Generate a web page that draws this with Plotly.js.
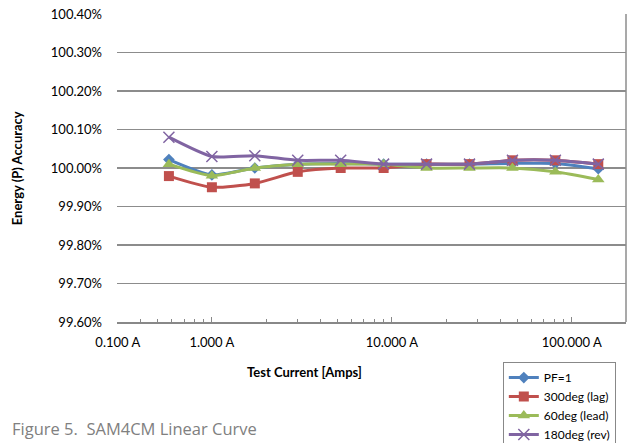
<!DOCTYPE html>
<html>
<head>
<meta charset="utf-8">
<script src="https://cdn.plot.ly/plotly-3.0.1.min.js"></script>
<style>html,body{margin:0;padding:0;background:#fff;}#chart{width:630px;height:443px;}</style>
</head>
<body>
<div id="chart"></div>
<script>
// Test current (A) for each measurement point
const currents = [0.577, 1.0, 1.732, 3.0, 5.196, 9.0, 15.59, 27.0, 46.77, 81.0, 140.3];
// Energy (P) accuracy, in percent
const pf1     = [100.022, 99.982, 100.000, 100.010, 100.012, 100.010, 100.010, 100.010, 100.012, 100.012, 99.998];
const lag300  = [99.979, 99.950, 99.960, 99.990, 100.000, 100.000, 100.010, 100.010, 100.020, 100.020, 100.010];
const lead60  = [100.010, 99.980, 100.000, 100.010, 100.010, 100.010, 100.000, 100.000, 100.000, 99.990, 99.970];
const rev180  = [100.080, 100.030, 100.032, 100.020, 100.020, 100.010, 100.010, 100.010, 100.020, 100.020, 100.010];
const seriesNames = ["PF=1", "300deg (lag)", "60deg (lead)", "180deg (rev)"];
const xTickVals = [0.3, 1, 10, 100];
const xTickText = ["0.100 A", "1.000 A", "10.000 A", "100.000 A"];
const yTickVals = [99.6, 99.7, 99.8, 99.9, 100.0, 100.1, 100.2, 100.3, 100.4];
const yTickText = ["99.60%", "99.70%", "99.80%", "99.90%", "100.00%", "100.10%", "100.20%", "100.30%", "100.40%"];

const font = "Lato, 'Liberation Sans', sans-serif";
const colors = ["#4F81BD", "#C0504D", "#9BBB59", "#8064A2"];
const symbols = ["diamond", "square", "triangle-up", "x-thin-open"];
const sizes = [9, 10, 11, 11];
const data = [pf1, lag300, lead60, rev180].map((ys, i) => ({
  type: "scatter", mode: "lines+markers",
  x: currents, y: ys, name: seriesNames[i],
  line: {color: colors[i], width: 3, shape: "spline", smoothing: 0.6},
  marker: {symbol: symbols[i], size: sizes[i], color: colors[i],
           line: {color: colors[i], width: i === 3 ? 1.5 : 0}}
}));

const layout = {
  width: 630, height: 443,
  margin: {l: 117, r: 4, t: 14, b: 121, autoexpand: false},
  paper_bgcolor: "#fff", plot_bgcolor: "#fff",
  font: {family: font, size: 13, color: "#000"},
  showlegend: true,
  legend: {x: 0.758, y: -0.13, xanchor: "left", yanchor: "top",
           bordercolor: "#888", borderwidth: 1, font: {size: 12, family: font},
           tracegroupgap: 0, itemwidth: 30},
  xaxis: {type: "log", range: [Math.log10(0.297), Math.log10(200)],
          tickmode: "array", tickvals: xTickVals, ticktext: xTickText,
          ticks: "inside", ticklen: 5, tickcolor: "#888", tickwidth: 1, ticklabelstandoff: 8,
          minor: {dtick: "D1", ticks: "inside", ticklen: 3, tickcolor: "#888", showgrid: false},
          showgrid: false, showline: true, linecolor: "#888", linewidth: 1.5,
          zeroline: false, tickfont: {size: 13, family: font}},
  yaxis: {range: [99.6, 100.4], tickmode: "array", tickvals: yTickVals, ticktext: yTickText,
          ticks: "", ticklabelstandoff: 14,
          showgrid: true, gridcolor: "#8c8c8c", gridwidth: 1.2,
          showline: false, zeroline: false, tickfont: {size: 13, family: font}},
  shapes: [{type: "line", xref: "paper", yref: "paper", x0: 1, x1: 1, y0: 0, y1: 1,
            line: {color: "#8c8c8c", width: 1.5}}],
  annotations: [
    {text: "<b>Test Current [Amps]</b>", xref: "paper", yref: "paper", x: 0.369, y: -0.163,
     xanchor: "center", yanchor: "middle", showarrow: false, font: {size: 13, family: font}},
    {text: "<b>Energy (P) Accuracy</b>", xref: "paper", yref: "paper", x: -0.196, y: 0.5,
     xanchor: "center", yanchor: "middle", textangle: -90, showarrow: false, font: {size: 13, family: font}},
    {text: "Figure 5.  SAM4CM Linear Curve", xref: "paper", yref: "paper", x: -0.21, y: -0.345,
     xanchor: "left", yanchor: "middle", showarrow: false, font: {size: 16.5, family: "'Open Sans', sans-serif", color: "#808080"}}
  ]
};
Plotly.newPlot("chart", data, layout, {displayModeBar: false, staticPlot: true});
</script>
</body>
</html>
